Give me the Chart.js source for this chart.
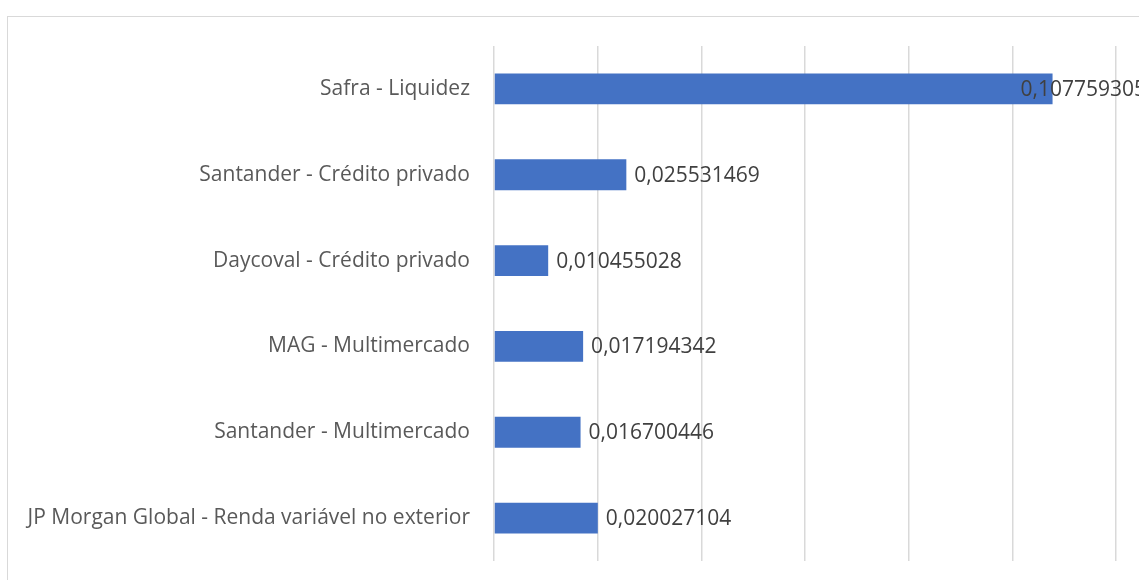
<!DOCTYPE html>
<html>
<head>
<meta charset="utf-8">
<script src="https://cdn.jsdelivr.net/npm/chart.js@4/dist/chart.umd.min.js"></script>
<style>
  html, body { margin: 0; padding: 0; background: #ffffff; overflow: hidden; }
  #frame { position: absolute; left: 7px; top: 16px; width: 1160px; height: 600px; border: 1.5px solid #d9d9d9; box-sizing: border-box; }
  #wrap { position: absolute; left: 0; top: 0; width: 1160px; height: 600px; }
</style>
</head>
<body>
<div id="frame"></div>
<div id="wrap"><canvas id="c" width="1160" height="600"></canvas></div>
<script>
const categories = [
  "Safra - Liquidez",
  "Santander - Crédito privado",
  "Daycoval - Crédito privado",
  "MAG - Multimercado",
  "Santander - Multimercado",
  "JP Morgan Global - Renda variável no exterior"
];
const values = [0.107759305, 0.025531469, 0.010455028, 0.017194342, 0.016700446, 0.020027104];
const valueLabels = ["0,107759305", "0,025531469", "0,010455028", "0,017194342", "0,016700446", "0,020027104"];

const labelPlugin = {
  id: 'valueLabels',
  afterDatasetsDraw(chart) {
    const ctx = chart.ctx;
    const meta = chart.getDatasetMeta(0);
    ctx.save();
    ctx.font = '21px "Open Sans"';
    ctx.fillStyle = '#404040';
    ctx.textBaseline = 'middle';
    ctx.textAlign = 'left';
    meta.data.forEach((bar, i) => {
      const txt = valueLabels[i];
      const w = ctx.measureText(txt).width;
      let x = bar.x + 8;
      const limit = 1146;
      if (x + w > limit) x = limit - w;
      ctx.fillText(txt, x, bar.y + 1);
    });
    ctx.restore();
  }
};

new Chart(document.getElementById('c'), {
  type: 'bar',
  data: {
    labels: categories,
    datasets: [{
      data: values,
      backgroundColor: '#4472C4',
      borderWidth: 0,
      categoryPercentage: 1,
      barPercentage: 0.36
    }]
  },
  options: {
    indexAxis: 'y',
    responsive: false,
    animation: false,
    events: [],
    layout: { padding: { left: 0, right: 44, top: 46, bottom: 39 } },
    plugins: { legend: { display: false }, tooltip: { enabled: false } },
    scales: {
      x: {
        min: 0, max: 0.12,
        ticks: { display: false, stepSize: 0.02 },
        grid: { color: '#d9d9d9', lineWidth: 1.5, drawTicks: false },
        border: { display: false },
        afterFit(s) { s.height = 0; }
      },
      y: {
        ticks: { font: { family: '"Open Sans"', size: 21 }, color: '#595959', padding: 24 },
        grid: { display: false, drawTicks: false },
        border: { display: false },
        afterFit(s) { s.width = 494; }
      }
    }
  },
  plugins: [labelPlugin]
});
</script>
</body>
</html>
